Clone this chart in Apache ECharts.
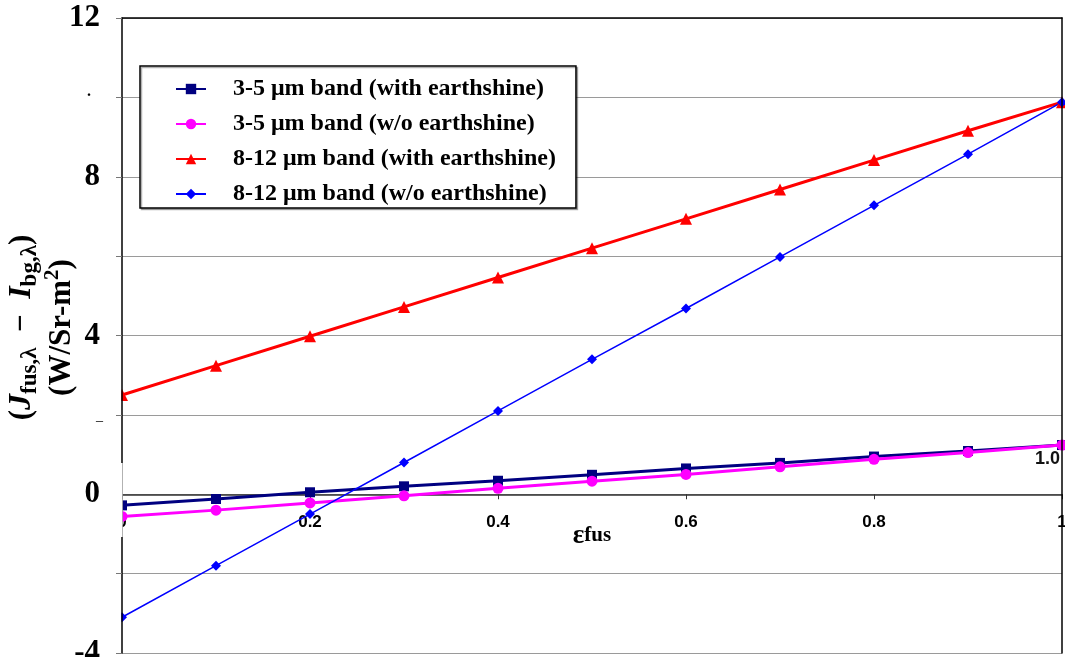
<!DOCTYPE html>
<html>
<head>
<meta charset="utf-8">
<script src="https://cdn.jsdelivr.net/npm/echarts@6/dist/echarts.min.js"></script>
<style>
  html, body { margin: 0; padding: 0; background: #fff; }
  #chart { width: 1065px; height: 657px; }
</style>
</head>
<body>
<div id="chart"></div>
<script>
// Emissivity of the fuselage (x values)
const eps = [0, 0.1, 0.2, 0.3, 0.4, 0.5, 0.6, 0.7, 0.8, 0.9, 1.0];

// Radiance contrast J_fus - I_bg (W/Sr-m^2) for each band
const band35With     = [-0.28, -0.12, 0.05, 0.20, 0.34, 0.49, 0.65, 0.79, 0.95, 1.09, 1.24];
const band35Without  = [-0.56, -0.40, -0.22, -0.04, 0.15, 0.33, 0.50, 0.69, 0.88, 1.05, 1.24];
const band812With    = [2.50, 3.24, 3.98, 4.72, 5.46, 6.20, 6.94, 7.68, 8.42, 9.16, 9.88];
const band812Without = [-3.10, -1.80, -0.50, 0.80, 2.10, 3.40, 4.68, 5.98, 7.28, 8.57, 9.88];

const seriesNames = [
  '3-5 μm band (with earthshine)',
  '3-5 μm band (w/o earthshine)',
  '8-12 μm band (with earthshine)',
  '8-12 μm band (w/o earthshine)'
];

// Axis ranges and tick steps
const yMin = -4, yMax = 12, yStep = 2, yLabelStep = 4;
const xMin = 0, xMax = 1, xStep = 0.2;

const serif = '"Liberation Serif", "Times New Roman", serif';
const sans = '"Liberation Sans", Arial, sans-serif';

const W = 1065, H = 657;
const gridBox = { left: 122, right: 3, top: 18, bottom: 4 };
// the x axis sits on y = 0: shift it up from the bottom edge by the y span below zero
const plotH = H - gridBox.top - gridBox.bottom;
const xAxisLift = -plotH * (0 - yMin) / (yMax - yMin);

function pairs(ys) { return eps.map((x, i) => [x, ys[i]]); }

const chart = echarts.init(document.getElementById('chart'));

const option = {
  animation: false,
  backgroundColor: '#fff',
  grid: Object.assign({ containLabel: false, outerBoundsMode: 'none' }, gridBox),
  legend: {
    orient: 'vertical',
    left: 140,
    top: 66,
    padding: [11, 20, 2, 35],
    itemWidth: 30,
    itemHeight: 13,
    itemGap: 11,
    backgroundColor: '#fff',
    borderColor: '#000',
    borderWidth: 1.5,
    borderRadius: 0,
    shadowColor: 'rgba(0,0,0,0.3)',
    shadowOffsetX: 1.5,
    shadowOffsetY: 1.5,
    shadowBlur: 0,
    textStyle: {
      fontFamily: serif,
      fontWeight: 'bold',
      fontSize: 24,
      color: '#000',
      lineHeight: 24,
      padding: [0, 0, 0, 22]
    },
    data: seriesNames
  },
  xAxis: [
    {
      type: 'value',
      position: 'bottom',
      offset: xAxisLift,
      min: xMin, max: xMax, interval: xStep,
      axisLine: { onZero: false, lineStyle: { color: '#333', width: 1.5 } },
      axisTick: { show: true, inside: false, length: 5, lineStyle: { color: '#333' } },
      axisLabel: {
        margin: 20,
        fontFamily: sans, fontWeight: 'bold', fontSize: 17, color: '#000',
        formatter: v => (v === 0 ? '0' : Math.abs(v - 1) < 1e-9 ? '1' : v.toFixed(1))
      },
      splitLine: { show: false },
      name: '{e|ε}{f|fus}',
      nameLocation: 'middle',
      nameGap: 28,
      nameMoveOverlap: false,
      nameTextStyle: {
        rich: {
          e: { fontFamily: serif, fontWeight: 'bold', fontSize: 27, color: '#000' },
          f: { fontFamily: serif, fontWeight: 'bold', fontSize: 21, color: '#000' }
        }
      }
    },
    {
      // top frame line
      type: 'value', position: 'top',
      min: xMin, max: xMax, interval: xStep,
      axisLine: { onZero: false, lineStyle: { color: '#000', width: 1.5 } },
      axisTick: { show: false }, axisLabel: { show: false }, splitLine: { show: false }
    }
  ],
  yAxis: [
    {
      type: 'value',
      min: yMin, max: yMax, interval: yStep,
      axisLine: { show: false },
      axisTick: { show: false },
      axisLabel: {
        margin: 22,
        fontFamily: serif, fontWeight: 'bold', fontSize: 31, color: '#000',
        formatter: v => (v % yLabelStep === 0 ? String(v) : '')
      },
      splitLine: { show: true, lineStyle: { color: '#9a9a9a', width: 1 } },
      name: '{p|(}{i|J}{s|fus,λ}{p|  −  }{i|I}{s|bg,λ}{p|)}\n{p|(W/Sr-m}{u|2}{p|)}',
      nameLocation: 'middle',
      nameGap: 40,
      nameRotate: 90,
      nameMoveOverlap: false,
      nameTextStyle: {
        padding: [0, 0, 0, 16],
        rich: {
          p: { fontFamily: serif, fontWeight: 'bold', fontSize: 31, color: '#000', lineHeight: 40 },
          i: { fontFamily: serif, fontWeight: 'bold', fontStyle: 'italic', fontSize: 32, color: '#000', lineHeight: 40 },
          s: { fontFamily: serif, fontWeight: 'bold', fontSize: 23, color: '#000', verticalAlign: 'bottom', lineHeight: 28 },
          u: { fontFamily: serif, fontWeight: 'bold', fontSize: 21, color: '#000', verticalAlign: 'top', lineHeight: 32 }
        }
      }
    },
    {
      // left axis line and ticks, drawn over the series
      type: 'value', position: 'left', offset: 0, z: 10,
      min: yMin, max: yMax, interval: yStep,
      axisLine: { show: true, onZero: false, lineStyle: { color: '#000', width: 1.5 } },
      axisTick: { show: true, length: 6, lineStyle: { color: '#777' } },
      axisLabel: { show: false }, splitLine: { show: false }
    },
    {
      // right frame line
      type: 'value', position: 'right', z: 10,
      min: yMin, max: yMax, interval: yStep,
      axisLine: { show: true, onZero: false, lineStyle: { color: '#000', width: 1.5 } },
      axisTick: { show: false }, axisLabel: { show: false }, splitLine: { show: false }
    }
  ],
  series: [
    {
      name: seriesNames[0], type: 'line', data: pairs(band35With),
      xAxisIndex: 0, yAxisIndex: 0,
      symbol: 'rect', symbolSize: 10,
      lineStyle: { color: '#000080', width: 3 },
      itemStyle: { color: '#000080' }
    },
    {
      name: seriesNames[1], type: 'line', data: pairs(band35Without),
      xAxisIndex: 0, yAxisIndex: 0,
      symbol: 'circle', symbolSize: 11,
      lineStyle: { color: '#ff00ff', width: 3 },
      itemStyle: { color: '#ff00ff' }
    },
    {
      name: seriesNames[2], type: 'line', data: pairs(band812With),
      xAxisIndex: 0, yAxisIndex: 0,
      symbol: 'triangle', symbolSize: 12,
      lineStyle: { color: '#ff0000', width: 3 },
      itemStyle: { color: '#ff0000' }
    },
    {
      name: seriesNames[3], type: 'line', data: pairs(band812Without),
      xAxisIndex: 0, yAxisIndex: 0,
      symbol: 'diamond', symbolSize: 10,
      lineStyle: { color: '#0000ff', width: 1.5 },
      itemStyle: { color: '#0000ff' }
    }
  ],
  graphic: [
    // stray "1.0" label behind the right end of the 3-5 μm lines
    { type: 'text', z: 1, left: 1035, top: 450,
      style: { text: '1.0', font: 'bold 18px ' + sans, fill: '#111' } },
    // small stray marks beside the y tick labels
    { type: 'text', z: 1, left: 87, top: 84,
      style: { text: '.', font: 'bold 16px ' + serif, fill: '#000' } },
    { type: 'text', z: 1, left: 96, top: 409,
      style: { text: '_', font: '14px ' + serif, fill: '#000' } },
    // plot edge mask: hides the part of the markers left of the axis
    { type: 'rect', z: 5, shape: { x: 104, y: 0, width: 17.4, height: H },
      style: { fill: '#fff' } },
    // break in the left axis line around zero
    { type: 'rect', z: 11, shape: { x: 108, y: 463, width: 14.6, height: 74 },
      style: { fill: '#fff' } }
  ]
};

chart.setOption(option);
</script>
</body>
</html>
